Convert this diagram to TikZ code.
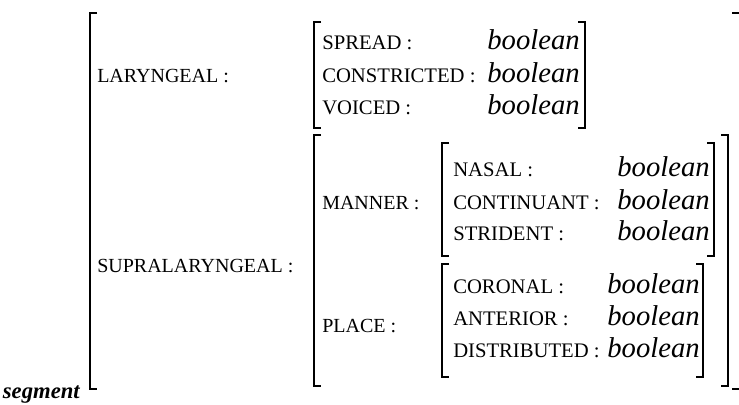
\documentclass[tikz,border=0pt]{standalone}
\usepackage{fontspec}
\setmainfont{Liberation Serif}
\newcommand{\featfont}{\fontsize{15}{18}\selectfont}
\newcommand{\leaffont}{\fontsize{15.5}{19}\selectfont}
\newcommand{\valfont}{\fontsize{21.5}{25}\selectfont\itshape}
\tikzset{
  feat/.style={anchor=base west, inner sep=0pt, font=\featfont},
  leaf/.style={anchor=base west, inner sep=0pt, font=\leaffont},
  val/.style={anchor=base east, inner sep=0pt, font=\valfont},
  brk/.style={line width=1.3pt}
}

\begin{document}
\begin{tikzpicture}[x=0.75pt,y=0.75pt,yscale=-1,xscale=1]
\useasboundingbox (0,0) rectangle (739,404);

% outer matrix
\draw[brk] (97,13) -- (90,13) -- (90,389) -- (97,389);
\draw[brk] (732,13) -- (739,13);
\draw[brk] (732,389) -- (739,389);
\node (seg) [anchor=base east, inner sep=0pt, font=\fontsize{17}{20}\selectfont\bfseries\itshape] at (80,398) {segment};

% laryngeal
\node (lar) [feat] at (97,82) {LARYNGEAL :};
\draw[brk] (321,22) -- (314,22) -- (314,128) -- (321,128);
\draw[brk] (578,22) -- (585,22) -- (585,128) -- (578,128);
\node (spread) [leaf] at (322,49) {SPREAD :};
\node (constr) [leaf] at (322,82) {CONSTRICTED :};
\node (voiced) [leaf] at (322,114) {VOICED :};
\node (spreadval) [val] at (580,49) {boolean};
\node (constrval) [val] at (580,82) {boolean};
\node (voicedval) [val] at (580,114) {boolean};

% supralaryngeal
\node (supra) [feat] at (97,272) {SUPRALARYNGEAL :};
\draw[brk] (321,135) -- (314,135) -- (314,386) -- (321,386);
\draw[brk] (721,135) -- (728,135) -- (728,386) -- (721,386);
\node (manner) [feat] at (322,209) {MANNER :};
\node (place) [feat] at (322,332) {PLACE :};

% manner
\draw[brk] (449,143) -- (442,143) -- (442,256) -- (449,256);
\draw[brk] (707,143) -- (714,143) -- (714,256) -- (707,256);
\node (nasal) [leaf] at (453,176) {NASAL :};
\node (cont) [leaf] at (453,209) {CONTINUANT :};
\node (strid) [leaf] at (453,240) {STRIDENT :};
\node (nasalval) [val] at (710,176) {boolean};
\node (contval) [val] at (710,209) {boolean};
\node (stridval) [val] at (710,240) {boolean};

% place
\draw[brk] (449,264) -- (442,264) -- (442,377) -- (449,377);
\draw[brk] (696,264) -- (703,264) -- (703,377) -- (696,377);
\node (coron) [leaf] at (453,293) {CORONAL :};
\node (anter) [leaf] at (453,325) {ANTERIOR :};
\node (distr) [leaf] at (453,357) {DISTRIBUTED :};
\node (coronval) [val] at (700,293) {boolean};
\node (anterval) [val] at (700,325) {boolean};
\node (distrval) [val] at (700,357) {boolean};

\end{tikzpicture}
\end{document}
